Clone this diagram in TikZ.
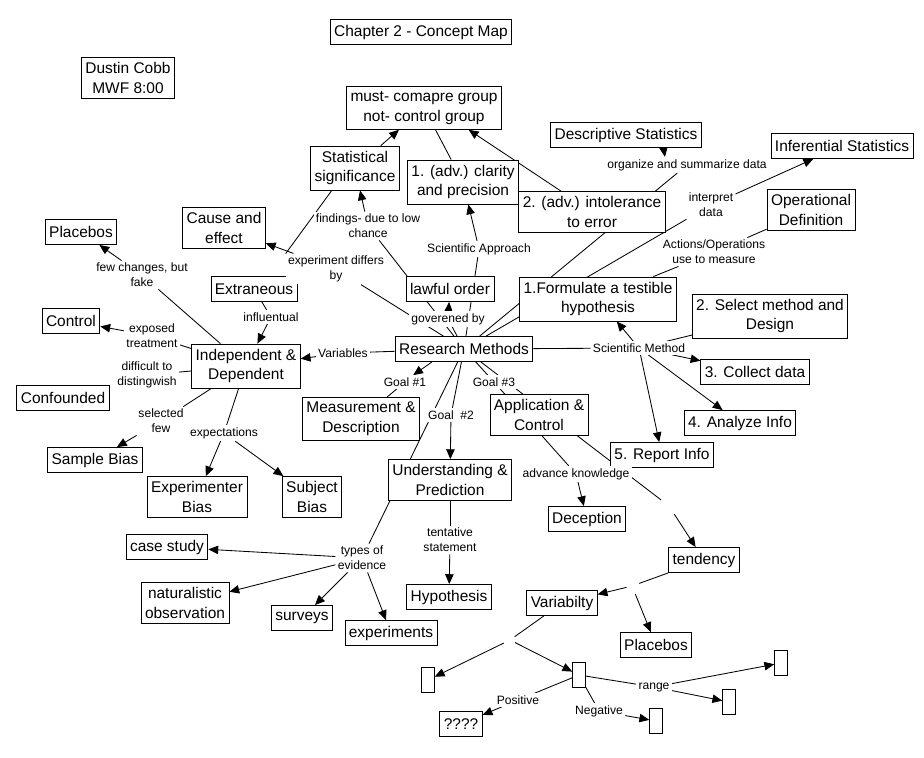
\documentclass[tikz,border=0pt]{standalone}
\usepackage{fontspec}
\setmainfont{Liberation Sans}
\usetikzlibrary{arrows.meta,backgrounds}

\begin{document}
\begin{tikzpicture}[
    x=0.025cm, y=-0.025cm,
    concept/.style={rectangle, draw, fill=white, line width=0.6pt, inner xsep=2.8pt, inner ysep=3.4pt, minimum height=17.8pt, align=center, font=\fontsize{11}{14.2}\selectfont},
    link/.style={fill=white, inner sep=1.5pt, align=center, font=\fontsize{8.6}{10.8}\selectfont},
    blank/.style={rectangle, draw, fill=white, line width=0.6pt, inner sep=0pt, minimum width=9pt, minimum height=17.8pt},
    arrow/.style={-{Triangle[length=7pt, width=6pt]}, line width=0.6pt},
    plain/.style={line width=0.6pt}
]
\useasboundingbox (0,0) rectangle (924,757);

% Title and author
\node[concept] (title) at (421,32) {Chapter 2 - Concept Map};
\node[concept] (author) at (128,78) {Dustin Cobb\\MWF 8:00};

% Top concepts
\node[concept] (must) at (424,108) {must- comapre group\\not- control group};
\node[concept] (statsig) at (355,168) {Statistical\\significance};
\node[concept] (clar) at (463,182) {1. (adv.) clarity\\and precision};
\node[concept] (intol) at (592,212) {2. (adv.) intolerance\\to error};
\node[concept] (desc) at (626,135) {Descriptive Statistics};
\node[concept] (infer) at (842,146) {Inferential Statistics};
\node[concept] (opdef) at (811,210) {Operational\\Definition};
\node[concept] (cause) at (224,228) {Cause and\\effect};
\node[concept] (lawful) at (450,289) {lawful order};

% Scientific method steps
\node[concept] (form) at (598,299) {1.Formulate a testible\\hypothesis};
\node[concept] (select) at (770,316) {2. Select method and\\Design};
\node[concept] (collect) at (755,372) {3. Collect data};
\node[concept] (analyze) at (740,423) {4. Analyze Info};
\node[concept] (report) at (662,455) {5. Report Info};

% Research methods
\node[concept] (rm) at (464,349) {Research Methods};
\node[concept] (meas) at (361,419) {Measurement \&\\Description};
\node[concept] (und) at (450,480) {Understanding \&\\Prediction};
\node[concept] (app) at (539,415) {Application \&\\Control};
\node[concept] (decep) at (587,519) {Deception};
\node[concept] (hyp) at (449,597) {Hypothesis};

% Variables
\node[concept] (indep) at (246,366) {Independent \&\\Dependent};
\node[concept] (plac1) at (81,232) {Placebos};
\node[concept] (extr) at (254,289) {Extraneous};
\node[concept] (control) at (71,321) {Control};
\node[concept] (conf) at (63,398) {Confounded};
\node[concept] (sample) at (95,460) {Sample Bias};
\node[concept] (experb) at (197,497) {Experimenter\\Bias};
\node[concept] (subj) at (312,497) {Subject\\Bias};

% Evidence
\node[concept] (case) at (167,547) {case study};
\node[concept] (natur) at (185,603) {naturalistic\\observation};
\node[concept] (surv) at (302,618) {surveys};
\node[concept] (expts) at (391,633) {experiments};

% Tendency and variability
\node[concept] (tend) at (704,560) {tendency};
\node[concept] (var) at (562,603) {Variabilty};
\node[concept] (plac2) at (656,645) {Placebos};
\node[blank] (boxa) at (428,680) {};
\node[blank] (boxb) at (579,675) {};
\node[blank] (boxc) at (781,663) {};
\node[blank] (boxd) at (729,702) {};
\node[blank] (boxe) at (656,721) {};
\node[concept] (qq) at (461,724) {????};

% Linking phrases
\node[link] (find) at (368,226) {findings- due to low\\chance};
\node[link] (exper) at (336,269) {experiment differs\\by};
\node[link] (sciapp) at (479,249) {Scientific Approach};
\node[link] (gov) at (448,319) {goverened by};
\node[link] (org) at (687,165) {organize and summarize data};
\node[link] (interp) at (711,205) {interpret\\data};
\node[link] (actions) at (714,252) {Actions/Operations\\use to measure};
\node[link] (fewch) at (142,275) {few changes, but\\fake};
\node[link] (influ) at (271,317) {influentual};
\node[link] (expo) at (152,336) {exposed\\treatment};
\node[link] (diff) at (147,375) {difficult to\\distingwish};
\node[link] (sel) at (161,421) {selected\\few};
\node[link] (expect) at (224,433) {expectations};
\node[link] (vars) at (343,353) {Variables};
\node[link] (goal1) at (405,382) {Goal \#1};
\node[link] (goal2) at (451,415) {Goal\ \ \#2};
\node[link] (goal3) at (494,382) {Goal \#3};
\node[link] (scim) at (639,348) {Scientific Method};
\node[link] (know) at (576,474) {advance knowledge};
\node[link] (types) at (362,558) {types of\\evidence};
\node[link] (tent) at (450,540) {tentative\\statement};
\node[link] (pos) at (518,700) {Positive};
\node[link] (neg) at (599,711) {Negative};
\node[link] (range) at (654,687) {range};

% Unlabelled joints
\coordinate (tgap) at (669,506);
\coordinate (vgap) at (632,586);
\coordinate (bgap) at (510,640);

\begin{pgfonlayer}{background}
\fill[white] (0,0) rectangle (924,757);

% Research Methods hub
\draw[plain] (rm) -- (vars);
\draw[arrow] (vars) -- (indep);
\draw[plain] (rm) -- (gov);
\draw[arrow] (gov) -- (lawful);
\draw[plain] (rm) -- (exper);
\draw[arrow] (exper) -- (cause);
\draw[plain] (rm) -- (find);
\draw[arrow] (find) -- (statsig);
\draw[plain] (statsig.-136) -- (exper.163);
\draw[plain] (rm) -- (sciapp);
\draw[arrow] (sciapp) -- (clar);
\draw[plain] (rm) -- (org);
\draw[arrow] (desc.-19) -- (org.160);
\draw[plain] (rm) -- (interp);
\draw[arrow] (interp) -- (infer);
\draw[plain] (form) -- (actions);
\draw[plain] (actions) -- (opdef);
\draw[arrow] (rm.-158) -- (goal1.40);
\draw[plain] (goal1) -- (meas);
\draw[plain] (rm) -- (goal2);
\draw[arrow] (goal2) -- (und);
\draw[plain] (rm) -- (types);
\draw[plain] (rm) -- (goal3);
\draw[plain] (goal3) -- (know);
\draw[arrow] (know) -- (decep);
\draw[plain, shorten >=7pt] (rm) -- (tgap);
\draw[arrow, shorten <=7pt] (tgap) -- (tend);

% Scientific method
\draw[plain] (rm) -- (scim);
\draw[arrow] (scim) -- (form);
\draw[plain] (scim) -- (select);
\draw[arrow] (scim) -- (collect);
\draw[arrow] (scim) -- (analyze);
\draw[arrow] (scim) -- (report);

% Comparison group
\draw[arrow] (statsig) -- (must);
\draw[plain] (must) -- (clar);
\draw[arrow] (intol.146) -- (must.-26);

% Independent & Dependent
\draw[plain] (indep) -- (fewch);
\draw[arrow] (fewch) -- (plac1);
\draw[plain] (extr) -- (influ);
\draw[arrow] (influ) -- (indep);
\draw[plain] (indep) -- (expo);
\draw[arrow] (expo) -- (control);
\draw[plain] (indep) -- (diff);
\draw[plain] (indep) -- (sel);
\draw[arrow] (sel) -- (sample);
\draw[plain] (indep) -- (expect);
\draw[arrow] (expect) -- (experb);
\draw[arrow] (expect) -- (subj);

% Understanding & Prediction
\draw[plain] (und) -- (tent);
\draw[arrow] (tent) -- (hyp);
\draw[arrow] (types) -- (case);
\draw[arrow] (types) -- (natur);
\draw[arrow] (types) -- (surv);
\draw[arrow] (types) -- (expts);

% Tendency and variability
\draw[plain, shorten >=5.5pt] (tend) -- (vgap);
\draw[arrow, shorten <=4pt] (vgap) -- (var);
\draw[arrow, shorten <=6pt] (vgap) -- (plac2);
\draw[plain, shorten >=4pt] (var) -- (bgap);
\draw[arrow, shorten <=5pt] (bgap) -- (boxa);
\draw[arrow, shorten <=4pt] (bgap) -- (boxb);
\draw[plain] (boxb) -- (pos);
\draw[arrow] (pos) -- (qq);
\draw[plain] (boxb) -- (neg);
\draw[arrow] (neg) -- (boxe);
\draw[plain] (boxb) -- (range);
\draw[arrow] (range) -- (boxc);
\draw[arrow] (range) -- (boxd);
\end{pgfonlayer}

\end{tikzpicture}
\end{document}
